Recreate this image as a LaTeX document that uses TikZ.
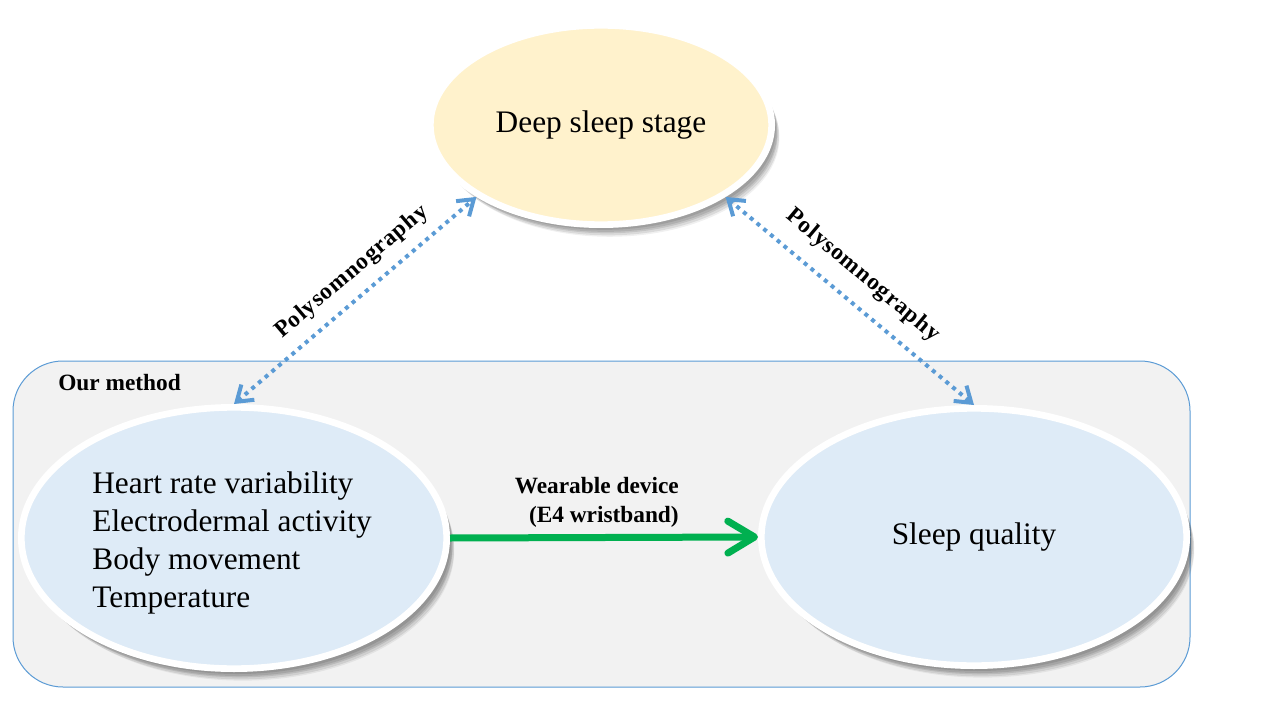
\documentclass[tikz,border=0pt]{standalone}
\usepackage{fontspec}
\setmainfont{Liberation Serif}
\newfontfamily\spacedbold[LetterSpace=4]{Liberation Serif Bold}
\usetikzlibrary{shadows,arrows.meta,fadings,shapes.geometric}
\definecolor{frameblue}{HTML}{5B9BD5}
\definecolor{framegray}{HTML}{F2F2F2}
\definecolor{topfill}{HTML}{FFF2CC}
\definecolor{bluefill}{HTML}{DEEBF7}
\definecolor{arrowgreen}{HTML}{00B050}
\tikzset{
  softshadow/.style={
     general shadow={shadow xshift=2.5pt, shadow yshift=-3.5pt, shadow scale=1.005, fill=black, opacity=0.10},
     general shadow={shadow xshift=3.5pt, shadow yshift=-5pt, shadow scale=1.005, fill=black, opacity=0.10},
     general shadow={shadow xshift=4.5pt, shadow yshift=-6.5pt, shadow scale=1.0, fill=black, opacity=0.10},
     general shadow={shadow xshift=5.5pt, shadow yshift=-8pt, shadow scale=1.0, fill=black, opacity=0.09},
     general shadow={shadow xshift=6.5pt, shadow yshift=-9.5pt, shadow scale=0.995, fill=black, opacity=0.06}},
  bubble/.style={ellipse, draw=white, line width=5pt, inner sep=0pt, softshadow},
  bigtext/.style={font=\fontsize{23.5pt}{28.5pt}\selectfont},
  boldlabel/.style={font=\fontsize{17.5pt}{21.75pt}\selectfont\bfseries},
  psglabel/.style={font=\fontsize{17.5pt}{21pt}\selectfont\spacedbold},
  psg/.style={draw=frameblue, line width=3pt, dash pattern=on 3pt off 3.6pt,
     {Straight Barb[length=11pt,width=15pt]}-{Straight Barb[length=11pt,width=15pt]}},
  framebox/.style={draw=frameblue, fill=framegray, line width=0.75pt, rounded corners=37.5pt, inner sep=0pt},
}
\begin{document}
\begin{tikzpicture}[x=0.75pt, y=-0.75pt]
\useasboundingbox (0,0) rectangle (1280,720);
% frame
\node[framebox, minimum width=882.75pt, minimum height=244.5pt] (frame) at (601.5,524) {};
\node[boldlabel, anchor=base west, inner sep=0pt] (ourmethod) at (58,390) {Our method};
% ellipses
\node[bubble, fill=topfill, minimum width=256pt, minimum height=149.5pt, bigtext] (deep) at (601,125) {Deep sleep stage};
\node[bubble, fill=bluefill, minimum width=319pt, minimum height=196pt] (left) at (234,538) {};
\node[bigtext, align=left, inner sep=0pt] (lefttext) at ([xshift=-1.5pt,yshift=-3.5pt]left.center) {Heart rate variability\\Electrodermal activity\\Body movement\\Temperature};
\node[bubble, fill=bluefill, minimum width=319pt, minimum height=193pt, bigtext] (right) at (974,537) {Sleep quality};
% connectors
\draw[arrowgreen, line width=5.25pt, -{Straight Barb[length=20pt, width=24pt, line cap=round, line join=round]}] (left.east) -- (right.west);
\node[boldlabel, align=right, anchor=south east, inner sep=0pt] (wear) at (679,528) {Wearable device\\(E4 wristband)};
\draw[psg] (left.north) -- (deep.210) node[psglabel, sloped, pos=0.55, above=5pt] (psgl) {Polysomnography};
\draw[psg] (deep.330) -- (right.north) node[psglabel, sloped, pos=0.48, above=8pt] (psgr) {Polysomnography};
\end{tikzpicture}
\end{document}
